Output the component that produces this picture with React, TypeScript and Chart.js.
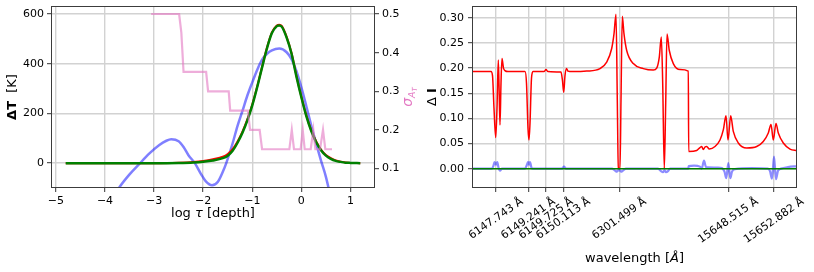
import React, { useEffect, useRef } from 'react';
import { Chart, registerables } from 'chart.js';
Chart.register(...registerables);

// ---------- Left panel: temperature perturbation vs log tau ----------
const tauFit = [-4.8, -4.0, -3.0, -2.5, -2.2, -2.0, -1.8, -1.6, -1.5, -1.4, -1.3, -1.2, -1.1, -1.0, -0.9, -0.8, -0.7, -0.6, -0.5, -0.45, -0.4, -0.3, -0.2, -0.1, 0.0, 0.1, 0.2, 0.3, 0.4, 0.5, 0.6, 0.7, 0.8, 0.9, 1.0, 1.2];
const dTFit = [0, 0, 0, 1, 3, 6, 11, 20, 30, 50, 82, 122, 172, 232, 305, 385, 462, 523, 551, 554, 549, 505, 440, 348, 265, 190, 130, 85, 52, 30, 17, 9, 5, 2, 1, 0];
const dTTrue = [0, 0, 0, 2, 5, 9, 16, 26, 37, 56, 87, 127, 176, 236, 308, 388, 465, 526, 554, 557, 552, 508, 443, 351, 268, 193, 133, 88, 55, 33, 20, 11, 6, 3, 1, 0];

const tauBlue = [-3.9, -3.7, -3.5, -3.3, -3.1, -2.9, -2.75, -2.65, -2.5, -2.4, -2.3, -2.17, -2.05, -1.95, -1.82, -1.7, -1.6, -1.53, -1.4, -1.3, -1.2, -1.1, -1.0, -0.9, -0.8, -0.7, -0.6, -0.45, -0.3, -0.2, -0.1, 0.0, 0.1, 0.2, 0.3, 0.4, 0.5, 0.6];
const dTBlue = [-160, -95, -45, -3, 38, 72, 90, 96, 88, 65, 32, 0, -42, -72, -89, -75, -35, 0, 80, 150, 210, 272, 325, 375, 416, 440, 454, 461, 446, 418, 370, 305, 230, 152, 80, 10, -55, -140];

const tauSigma = [-3.06, -2.49, -2.445, -2.40, -1.94, -1.90, -1.48, -1.45, -1.09, -1.045, -0.85, -0.80, -0.245, -0.195, -0.15, -0.015, 0.028, 0.068, 0.19, 0.244, 0.285, 0.38, 0.441, 0.488, 0.624];
const sigmaVals = [0.5, 0.5, 0.452, 0.35, 0.35, 0.3, 0.3, 0.25, 0.25, 0.2, 0.2, 0.15, 0.15, 0.2, 0.15, 0.15, 0.2, 0.15, 0.15, 0.2, 0.15, 0.15, 0.2, 0.15, 0.15];

const leftXTicks = [-5, -4, -3, -2, -1, 0, 1];
const leftYTicks = [0, 200, 400, 600];
const sigmaTicks = [0.1, 0.2, 0.3, 0.4, 0.5];

// ---------- Right panel: Delta I vs wavelength sample ----------
const idxRed = [0, 19, 20.5, 22, 23.7, 25, 26.3, 27.2, 28, 29, 30, 31.5, 33, 36, 53, 54.5, 56, 57, 58, 59.5, 61, 72, 74, 76, 89, 90.5, 91.7, 93, 94.5, 96, 100, 114.7, 128, 134.7, 139.7, 142, 144, 145.3, 146.3, 148, 149, 150.3, 152, 154.7, 161.3, 171.3, 181.3, 184.7, 187.3, 189.3, 190.7, 192.3, 193.7, 195, 197.3, 201.3, 208, 216.3, 216.7, 224.7, 228, 229.7, 231.3, 233, 234.7, 237.3, 243, 248, 251.3, 254, 256, 258.7, 261.3, 266.3, 274.7, 284.7, 291.3, 296.3, 299, 301.3, 304, 306.3, 311.3, 318, 325];
const dIRed = [0.193, 0.193, 0.185, 0.12, 0.062, 0.12, 0.216, 0.15, 0.087, 0.17, 0.219, 0.2, 0.195, 0.193, 0.193, 0.17, 0.08, 0.057, 0.09, 0.18, 0.193, 0.193, 0.197, 0.193, 0.192, 0.175, 0.152, 0.185, 0.199, 0.194, 0.193, 0.194, 0.199, 0.212, 0.239, 0.268, 0.307, 0.136, 0.001, 0.0, 0.136, 0.303, 0.268, 0.235, 0.209, 0.199, 0.196, 0.2, 0.222, 0.262, 0.17, 0.0, 0.13, 0.268, 0.235, 0.209, 0.197, 0.194, 0.034, 0.036, 0.042, 0.044, 0.038, 0.043, 0.044, 0.039, 0.044, 0.057, 0.077, 0.105, 0.057, 0.105, 0.074, 0.051, 0.041, 0.044, 0.054, 0.071, 0.088, 0.057, 0.09, 0.071, 0.051, 0.039, 0.036];

const idxBlue = [0, 20, 21.5, 22.5, 24, 25.3, 26.5, 28, 30, 53, 55, 56, 57, 58, 59.5, 61, 90, 92, 94, 140, 143, 145, 147, 149, 151, 154, 186, 189, 191, 192.5, 194, 196, 198, 216.3, 216.7, 222, 228, 229.7, 232, 234, 246, 250, 252.5, 254.3, 256.3, 258.3, 260, 263, 280, 296, 298, 300, 302, 304, 306, 309, 316, 325];
const dIBlue = [0, 0, 0.006, 0.013, 0.008, 0.013, 0.002, -0.004, 0, 0, 0.008, 0.013, 0.008, 0.013, 0.002, 0, 0, 0.004, 0, 0, -0.004, -0.006, -0.002, -0.006, -0.004, 0, 0, -0.005, -0.007, -0.003, -0.007, -0.005, 0, 0, 0.005, 0.006, 0.004, 0, 0.016, 0.003, 0.002, 0.001, -0.006, -0.019, 0.011, -0.019, -0.006, -0.001, 0.001, 0, -0.005, -0.02, 0.024, -0.021, -0.004, 0, 0.003, 0.005];

const idxGreen = [0, 325];
const dIGreen = [0, 0];

const lineTickPos = [24, 56.3, 74, 91.3, 147.3, 256.3, 302];
const lineTickLabels = ['6147.743 Å', '6149.241 Å', '6149.725 Å', '6150.113 Å', '6301.499 Å', '15648.515 Å', '15652.882 Å'];
const rightYTicks = [0, 0.05, 0.1, 0.15, 0.2, 0.25, 0.3];

// ---------- helpers ----------
const FAMILY = 'DejaVu Sans';
const tickFont = { family: FAMILY, size: 11 };
const GRID = '#d2d2d2';

function pts(xs: number[], ys: number[]) {
  return xs.map((x, i) => ({ x, y: ys[i] }));
}

type Run = { text: string; font: string; dy?: number };
function drawRuns(ctx: CanvasRenderingContext2D, runs: Run[], x: number, y: number, rot: number, color: string) {
  ctx.save();
  ctx.translate(x, y);
  ctx.rotate(rot);
  ctx.fillStyle = color;
  ctx.textBaseline = 'alphabetic';
  ctx.textAlign = 'left';
  let total = 0;
  const widths = runs.map((r) => {
    ctx.font = r.font;
    const w = ctx.measureText(r.text).width;
    total += w;
    return w;
  });
  let cx = -total / 2;
  runs.forEach((r, i) => {
    ctx.font = r.font;
    ctx.fillText(r.text, cx, r.dy || 0);
    cx += widths[i];
  });
  ctx.restore();
}

const framePlugin = {
  id: 'frame',
  afterDatasetsDraw(chart: any) {
    const { ctx, chartArea: a } = chart;
    ctx.save();
    ctx.strokeStyle = '#3c3c3c';
    ctx.lineWidth = 1;
    ctx.strokeRect(Math.round(a.left) + 0.5, Math.round(a.top) + 0.5, Math.round(a.right - a.left) - 1, Math.round(a.bottom - a.top) - 1);
    ctx.restore();
  },
};

function fixTicks(values: number[]) {
  return (scale: any) => {
    scale.ticks = values.map((v) => ({ value: v }));
  };
}
function fixWidth(w: number) {
  return (scale: any) => {
    scale.width = w;
    scale.paddingTop = 0;
    scale.paddingBottom = 0;
  };
}
function fixHeight(h: number) {
  return (scale: any) => {
    scale.height = h;
    scale.paddingLeft = 0;
    scale.paddingRight = 0;
  };
}

const gridOpts = (onChart = true) => ({
  display: true,
  drawOnChartArea: onChart,
  color: GRID,
  lineWidth: 1.4,
  drawTicks: true,
  tickLength: 4,
  tickColor: '#333',
  tickWidth: 1,
});

function leftConfig(): any {
  const labels = {
    id: 'leftLabels',
    afterDraw(chart: any) {
      const { ctx, chartArea: a } = chart;
      const midY = (a.top + a.bottom) / 2;
      drawRuns(ctx, [
        { text: 'log ', font: `13px ${FAMILY}` },
        { text: 'τ', font: `italic 13px ${FAMILY}` },
        { text: ' [depth]', font: `13px ${FAMILY}` },
      ], (a.left + a.right) / 2, a.bottom + 29, 0, '#000');
      drawRuns(ctx, [
        { text: 'ΔT', font: `bold 13px ${FAMILY}` },
        { text: '  [K]', font: `13px ${FAMILY}` },
      ], 16, midY, -Math.PI / 2, '#000');
      drawRuns(ctx, [
        { text: 'σ', font: `italic 14px ${FAMILY}` },
        { text: 'A', font: `italic 9.5px ${FAMILY}`, dy: 3 },
        { text: 'T', font: `italic 7px ${FAMILY}`, dy: 5 },
      ], a.right + 37, midY, -Math.PI / 2, '#e377c2');
    },
  };
  return {
    type: 'line',
    data: {
      datasets: [
        { data: pts(tauSigma, sigmaVals), yAxisID: 'y1', borderColor: 'rgba(227,119,194,0.6)', borderWidth: 2.2, pointRadius: 0, cubicInterpolationMode: 'default', tension: 0 },
        { data: pts(tauFit, dTFit), yAxisID: 'y', borderColor: '#008000', borderWidth: 2.5, pointRadius: 0 },
        { data: pts(tauFit, dTTrue), yAxisID: 'y', borderColor: '#ff0000', borderWidth: 2, pointRadius: 0 },
        { data: pts(tauBlue, dTBlue), yAxisID: 'y', borderColor: 'rgba(0,0,255,0.5)', borderWidth: 2.5, pointRadius: 0 },
      ],
    },
    options: {
      animation: false,
      responsive: false,
      events: [],
      layout: { padding: { top: 6, left: 0, right: 0, bottom: 0 }, autoPadding: false },
      elements: { line: { cubicInterpolationMode: 'monotone' } },
      plugins: { legend: { display: false }, tooltip: { enabled: false } },
      scales: {
        x: {
          type: 'linear', min: -5.1, max: 1.5,
          afterBuildTicks: fixTicks(leftXTicks), afterFit: fixHeight(84),
          grid: gridOpts(), border: { display: false },
          ticks: { font: tickFont, color: '#000', padding: 3, autoSkip: false, maxRotation: 0, callback: (v: number) => (v < 0 ? '−' + Math.abs(v) : String(v)) },
        },
        y: {
          type: 'linear', position: 'left', min: -100, max: 632,
          afterBuildTicks: fixTicks(leftYTicks), afterFit: fixWidth(51),
          grid: gridOpts(), border: { display: false },
          ticks: { font: tickFont, color: '#000', padding: 3, callback: (v: number) => String(v) },
        },
        y1: {
          type: 'linear', position: 'right', min: 0.0498, max: 0.5207,
          afterBuildTicks: fixTicks(sigmaTicks), afterFit: fixWidth(45),
          grid: gridOpts(false), border: { display: false },
          ticks: { font: tickFont, color: '#000', padding: 3, callback: (v: number) => v.toFixed(1) },
        },
      },
    },
    plugins: [framePlugin, labels],
  };
}

function rightConfig(): any {
  const labels = {
    id: 'rightLabels',
    afterDraw(chart: any) {
      const { ctx, chartArea: a, scales } = chart;
      const midY = (a.top + a.bottom) / 2;
      const ang = (35 * Math.PI) / 180;
      ctx.save();
      ctx.font = `11px ${FAMILY}`;
      ctx.fillStyle = '#000';
      ctx.textAlign = 'center';
      ctx.textBaseline = 'middle';
      lineTickPos.forEach((p, i) => {
        const px = scales.x.getPixelForValue(p);
        const w = ctx.measureText(lineTickLabels[i]).width;
        const h = 11;
        const bh = w * Math.sin(ang) + h * Math.cos(ang);
        ctx.save();
        ctx.translate(px, a.bottom + 8 + bh / 2);
        ctx.rotate(-ang);
        ctx.fillText(lineTickLabels[i], 0, 0);
        ctx.restore();
      });
      ctx.restore();
      drawRuns(ctx, [
        { text: 'wavelength [', font: `13px ${FAMILY}` },
        { text: 'Å', font: `italic 13px ${FAMILY}` },
        { text: ']', font: `13px ${FAMILY}` },
      ], (a.left + a.right) / 2, a.bottom + 73.5, 0, '#000');
      drawRuns(ctx, [
        { text: 'Δ ', font: `13px ${FAMILY}` },
        { text: 'I', font: `bold 13px ${FAMILY}` },
      ], 26, midY, -Math.PI / 2, '#000');
    },
  };
  return {
    type: 'line',
    data: {
      datasets: [
        { data: pts(idxGreen, dIGreen), borderColor: '#008000', borderWidth: 1.5, pointRadius: 0 },
        { data: pts(idxBlue, dIBlue), borderColor: 'rgba(0,0,255,0.45)', borderWidth: 2.2, pointRadius: 0 },
        { data: pts(idxRed, dIRed), borderColor: '#ff0000', borderWidth: 1.5, pointRadius: 0 },
      ],
    },
    options: {
      animation: false,
      responsive: false,
      events: [],
      layout: { padding: { top: 6, left: 0, right: 17, bottom: 0 }, autoPadding: false },
      elements: { line: { cubicInterpolationMode: 'monotone' } },
      plugins: { legend: { display: false }, tooltip: { enabled: false } },
      scales: {
        x: {
          type: 'linear', min: 0, max: 325,
          afterBuildTicks: fixTicks(lineTickPos), afterFit: fixHeight(84),
          grid: gridOpts(), border: { display: false },
          ticks: { display: false },
        },
        y: {
          type: 'linear', position: 'left', min: -0.0385, max: 0.3235,
          afterBuildTicks: fixTicks(rightYTicks), afterFit: fixWidth(62),
          grid: gridOpts(), border: { display: false },
          ticks: { font: tickFont, color: '#000', padding: 4, callback: (v: number) => v.toFixed(2) },
        },
      },
    },
    plugins: [framePlugin, labels],
  };
}

export default function App() {
  const leftRef = useRef<HTMLCanvasElement>(null);
  const rightRef = useRef<HTMLCanvasElement>(null);
  useEffect(() => {
    const c1 = new Chart(leftRef.current as HTMLCanvasElement, leftConfig());
    const c2 = new Chart(rightRef.current as HTMLCanvasElement, rightConfig());
    return () => {
      c1.destroy();
      c2.destroy();
    };
  }, []);
  return (
    <div style={{ position: 'fixed', left: 0, top: 0, width: 814, height: 272, background: '#fff' }}>
      <canvas ref={leftRef} width={420} height={272} style={{ position: 'absolute', left: 0, top: 0, width: 420, height: 272 }} />
      <canvas ref={rightRef} width={404} height={272} style={{ position: 'absolute', left: 410, top: 0, width: 404, height: 272 }} />
    </div>
  );
}
